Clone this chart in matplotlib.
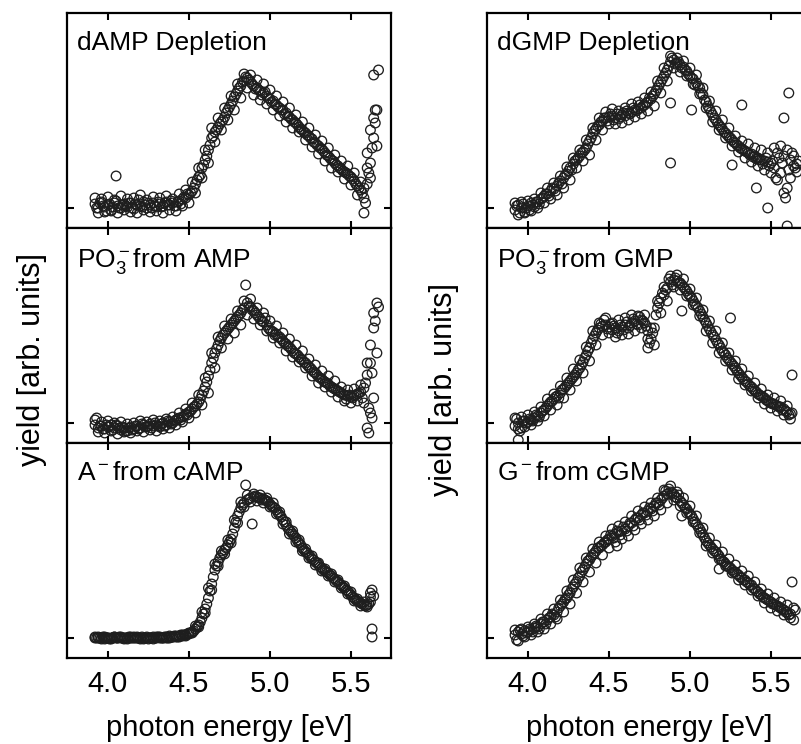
import numpy as np
import matplotlib
matplotlib.use("Agg")
import matplotlib.pyplot as plt

plt.rcParams['font.family'] = ['Liberation Sans', 'DejaVu Sans']
plt.rcParams['mathtext.fontset'] = 'custom'
plt.rcParams['mathtext.rm'] = 'Liberation Sans'
plt.rcParams['mathtext.it'] = 'Liberation Sans:italic'
plt.rcParams['mathtext.default'] = 'regular'

nan = np.nan

# photon energies of the scans [eV]
energy_a = [3.92, 3.94, 3.96, 3.98, 4.00, 4.02, 4.04, 4.06, 4.08, 4.10,
            4.12, 4.14, 4.16, 4.18, 4.20, 4.22, 4.24, 4.26, 4.28, 4.30,
            4.32, 4.34, 4.36, 4.38, 4.40, 4.42, 4.44, 4.46, 4.48, 4.50,
            4.52, 4.54, 4.56, 4.58, 4.60, 4.62, 4.64, 4.66, 4.68, 4.70,
            4.72, 4.74, 4.76, 4.78, 4.80, 4.82, 4.84, 4.86, 4.88, 4.90,
            4.92, 4.94, 4.96, 4.98, 5.00, 5.02, 5.04, 5.06, 5.08, 5.10,
            5.12, 5.14, 5.16, 5.18, 5.20, 5.22, 5.24, 5.26, 5.28, 5.30,
            5.32, 5.34, 5.36, 5.38, 5.40, 5.42, 5.44, 5.46, 5.48, 5.50,
            5.52, 5.54, 5.56, 5.58, 5.60, 5.62, 5.64, 5.66]
energy_b = [3.93, 3.95, 3.97, 3.99, 4.01, 4.03, 4.05, 4.07, 4.09, 4.11,
            4.13, 4.15, 4.17, 4.19, 4.21, 4.23, 4.25, 4.27, 4.29, 4.31,
            4.33, 4.35, 4.37, 4.39, 4.41, 4.43, 4.45, 4.47, 4.49, 4.51,
            4.53, 4.55, 4.57, 4.59, 4.61, 4.63, 4.65, 4.67, 4.69, 4.71,
            4.73, 4.75, 4.77, 4.79, 4.81, 4.83, 4.85, 4.87, 4.89, 4.91,
            4.93, 4.95, 4.97, 4.99, 5.01, 5.03, 5.05, 5.07, 5.09, 5.11,
            5.13, 5.15, 5.17, 5.19, 5.21, 5.23, 5.25, 5.27, 5.29, 5.31,
            5.33, 5.35, 5.37, 5.39, 5.41, 5.43, 5.45, 5.47, 5.49, 5.51,
            5.53, 5.55, 5.57, 5.59, 5.61, 5.63, 5.65, 5.67]

# ---- dAMP Depletion ----
damp_a = [0.04, 0.00, 0.06, 0.01, 0.03, -0.02, 0.05, 0.02, 0.00, 0.04,
          0.01, 0.05, -0.01, 0.03, 0.02, 0.06, 0.00, 0.03, 0.05, 0.01,
          0.04, 0.02, 0.06, 0.03, 0.05, 0.02, 0.07, 0.09, 0.10, 0.13,
          0.17, 0.24, 0.31, 0.40, 0.48, 0.58, 0.70, 0.76, 0.81, 0.86,
          0.91, 0.98, 1.04, 1.11, 1.17, 1.22, 1.27, 1.30, 1.26, 1.22,
          1.20, 1.17, 1.15, 1.12, 1.09, 1.07, 1.03, 1.00, 0.98, 0.95,
          0.91, 0.88, 0.85, 0.81, 0.78, 0.75, 0.72, 0.69, 0.65, 0.62,
          0.59, 0.55, 0.52, 0.48, 0.45, 0.42, 0.39, 0.36, 0.34, 0.31,
          0.27, 0.22, 0.18, 0.20, 0.24, 0.45, 0.70, 0.98]
damp_b = [0.00, 0.05, 0.02, -0.03, 0.04, 0.01, 0.07, 0.00, 0.03, 0.02,
          0.05, 0.00, 0.04, 0.08, 0.01, 0.03, 0.05, 0.00, 0.02, 0.06,
          0.01, 0.05, 0.03, 0.07, 0.02, 0.06, 0.04, 0.11, 0.14, 0.15,
          0.20, 0.28, 0.33, 0.43, 0.52, 0.63, 0.72, 0.78, 0.84, 0.88,
          0.95, 1.01, 1.07, 1.14, 1.20, 1.26, 1.31, 1.28, 1.24, 1.19,
          1.18, 1.13, 1.16, 1.10, 1.06, 1.04, 1.01, 0.98, 0.94, 0.92,
          0.89, 0.86, 0.83, 0.79, 0.76, 0.73, 0.70, 0.66, 0.63, 0.60,
          0.57, 0.53, 0.50, 0.47, 0.43, 0.40, 0.37, 0.35, 0.32, 0.29,
          0.24, 0.20, 0.15, 0.05, 0.35, 0.60, 0.85, 1.38]
damp_c = [0.10, -0.05, 0.09, -0.04, 0.11, -0.03, 0.08, -0.05, 0.12, -0.02,
          0.09, -0.04, 0.10, -0.05, 0.13, -0.02, 0.08, -0.04, 0.11, -0.03,
          0.10, -0.05, 0.12, -0.02, 0.09, -0.03, 0.14, 0.02, 0.18, 0.05,
          0.26, 0.15, 0.40, 0.30, 0.58, 0.45, 0.80, 0.66, 0.90, 0.78,
          1.00, 0.88, 1.12, 0.98, 1.24, 1.10, 1.34, 1.20, 1.33, 1.13,
          1.28, 1.08, 1.24, 1.04, 1.18, 0.98, 1.12, 0.92, 1.06, 0.86,
          1.00, 0.80, 0.93, 0.76, 0.86, 0.68, 0.80, 0.61, 0.73, 0.54,
          0.67, 0.47, 0.60, 0.40, 0.53, 0.36, 0.47, 0.29, 0.42, 0.23,
          0.35, 0.13, 0.26, 0.10, 0.40, 0.30, 0.90, 0.62]
damp_xo = [4.05, 5.64, 5.65, 5.62, 5.60, 5.58]
damp_yo = [0.32, 1.33, 0.98, 0.78, 0.55, -0.05]

# ---- PO3- from AMP ----
po3amp_a = [-0.02, -0.05, -0.03, -0.06, -0.04, -0.02, -0.05, -0.03, -0.07, -0.05,
            -0.08, -0.04, -0.06, -0.03, -0.05, -0.02, -0.04, -0.01, -0.03, -0.02,
            -0.04, 0.00, -0.02, 0.01, 0.00, 0.03, 0.05, 0.06, 0.09, 0.11,
            0.14, 0.17, 0.21, 0.28, 0.36, 0.47, 0.60, 0.70, 0.78, 0.85,
            0.90, 0.94, 0.98, 1.02, 1.06, 1.10, 1.15, 1.20, 1.16, 1.12,
            1.08, 1.04, 1.01, 0.98, 0.93, 0.91, 0.89, 0.86, 0.82, 0.79,
            0.76, 0.72, 0.69, 0.66, 0.63, 0.60, 0.56, 0.53, 0.50, 0.46,
            0.44, 0.41, 0.39, 0.36, 0.34, 0.32, 0.30, 0.28, 0.27, 0.26,
            0.27, 0.29, 0.31, 0.35, 0.48, 0.78, 1.10, 1.20]
po3amp_b = [0.05, -0.03, -0.06, -0.02, -0.04, -0.07, -0.02, -0.05, -0.04, -0.08,
            -0.05, -0.07, -0.03, -0.06, -0.01, -0.04, -0.03, -0.05, 0.00, -0.03,
            -0.01, -0.03, 0.02, -0.01, 0.02, 0.04, 0.03, 0.07, 0.08, 0.12,
            0.16, 0.19, 0.24, 0.32, 0.41, 0.53, 0.65, 0.74, 0.82, 0.88,
            0.92, 0.96, 1.00, 1.04, 1.08, 1.13, 1.38, 1.17, 1.13, 1.10,
            1.06, 1.02, 1.05, 0.95, 0.92, 0.88, 0.86, 0.84, 0.80, 0.77,
            0.74, 0.70, 0.68, 0.64, 0.61, 0.58, 0.55, 0.51, 0.48, 0.45,
            0.42, 0.40, 0.37, 0.35, 0.33, 0.31, 0.29, 0.24, 0.28, 0.25,
            0.28, 0.30, 0.25, 0.40, 0.15, 0.50, 1.02, 1.16]
po3amp_c = [0.03, -0.09, 0.01, -0.10, 0.02, -0.08, 0.00, -0.11, 0.01, -0.09,
            -0.01, -0.10, 0.00, -0.08, 0.02, -0.09, 0.01, -0.07, 0.03, -0.08,
            0.02, -0.06, 0.04, -0.05, 0.06, -0.02, 0.10, 0.01, 0.14, 0.05,
            0.20, 0.10, 0.28, 0.18, 0.45, 0.30, 0.70, 0.55, 0.86, 0.75,
            0.97, 0.84, 1.04, 0.90, 1.12, 0.98, 1.22, 1.08, 1.24, 1.04,
            1.15, 0.98, 1.10, 0.92, 1.02, 0.85, 0.97, 0.80, 0.90, 0.72,
            0.84, 0.66, 0.78, 0.61, 0.72, 0.55, 0.64, 0.47, 0.58, 0.40,
            0.52, 0.36, 0.47, 0.31, 0.42, 0.26, 0.36, 0.22, 0.33, 0.20,
            0.34, 0.22, 0.38, 0.20, 0.60, 0.10, 0.95, 0.70]
po3amp_xo = [5.61, 5.63, 5.64, 5.62, 5.60]
po3amp_yo = [-0.10, 0.05, 0.25, 0.60, -0.05]

# ---- A- from cAMP ----
acamp_a = [0.00, 0.01, 0.00, -0.01, 0.00, 0.00, 0.01, 0.00, 0.00, -0.01,
           0.00, 0.00, 0.01, 0.00, 0.00, -0.01, 0.00, 0.00, 0.01, 0.00,
           0.00, 0.00, 0.01, 0.00, 0.01, 0.01, 0.02, 0.02, 0.03, 0.04,
           0.06, 0.09, 0.13, 0.20, 0.29, 0.40, 0.54, 0.68, 0.76, 0.83,
           0.88, 0.93, 0.99, 1.10, 1.22, 1.30, 1.35, 1.38, 1.40, 1.41,
           1.41, 1.40, 1.39, 1.37, 1.34, 1.31, 1.28, 1.23, 1.18, 1.13,
           1.08, 1.04, 1.00, 0.95, 0.90, 0.86, 0.83, 0.79, 0.76, 0.73,
           0.70, 0.67, 0.65, 0.62, 0.59, 0.56, 0.53, 0.50, 0.47, 0.43,
           0.40, 0.37, 0.35, 0.33, 0.33, 0.36, 0.42, nan]
acamp_b = [0.00, 0.00, 0.01, 0.00, -0.01, 0.00, 0.00, 0.01, 0.00, 0.00,
           0.01, 0.00, 0.00, 0.00, 0.01, 0.00, -0.01, 0.00, 0.00, 0.01,
           0.00, 0.01, 0.00, 0.01, 0.02, 0.01, 0.03, 0.03, 0.04, 0.05,
           0.07, 0.11, 0.16, 0.24, 0.34, 0.47, 0.61, 0.72, 0.80, 0.85,
           0.90, 0.96, 1.04, 1.16, 1.26, 1.33, 1.53, 1.39, 1.14, 1.42,
           1.40, 1.38, 1.38, 1.36, 1.32, 1.30, 1.25, 1.21, 1.16, 1.10,
           1.06, 1.02, 0.97, 0.93, 0.88, 0.85, 0.81, 0.78, 0.75, 0.71,
           0.68, 0.66, 0.63, 0.60, 0.57, 0.54, 0.51, 0.48, 0.45, 0.41,
           0.38, 0.36, 0.34, 0.32, 0.34, 0.01, nan, nan]
acamp_c = [0.01, 0.00, -0.01, 0.01, 0.00, -0.01, 0.01, 0.00, 0.01, 0.00,
           -0.01, 0.01, 0.00, 0.01, -0.01, 0.00, 0.01, 0.00, -0.01, 0.01,
           0.01, 0.00, 0.00, 0.02, 0.01, 0.02, 0.01, 0.03, 0.02, 0.05,
           0.05, 0.12, 0.11, 0.26, 0.25, 0.50, 0.48, 0.74, 0.72, 0.87,
           0.84, 0.98, 0.95, 1.18, 1.15, 1.36, 1.31, 1.43, 1.36, 1.44,
           1.37, 1.43, 1.35, 1.40, 1.31, 1.35, 1.24, 1.26, 1.14, 1.16,
           1.04, 1.07, 0.96, 0.98, 0.87, 0.89, 0.80, 0.82, 0.73, 0.75,
           0.67, 0.69, 0.62, 0.64, 0.56, 0.58, 0.50, 0.52, 0.44, 0.46,
           0.37, 0.39, 0.32, 0.36, 0.31, 0.45, nan, nan]
acamp_xo = [5.63, 5.63, 5.62]
acamp_yo = [0.09, 0.48, 0.41]

# ---- dGMP Depletion ----
dgmp_a = [-0.02, 0.03, 0.00, -0.04, 0.02, 0.05, 0.01, 0.06, 0.09, 0.12,
          0.14, 0.17, 0.19, 0.22, 0.27, 0.30, 0.34, 0.40, 0.44, 0.48,
          0.52, 0.56, 0.60, 0.67, 0.74, 0.79, 0.83, 0.87, 0.90, 0.91,
          0.92, 0.90, 0.89, 0.93, 0.92, 0.95, 0.96, 0.98, 0.99, 1.00,
          1.03, 1.06, 1.09, 1.14, 1.20, 1.26, 1.32, 1.38, 1.46, 1.48,
          1.45, 1.43, 1.41, 1.37, 1.32, 1.29, 1.25, 1.20, 1.13, 1.06,
          0.99, 0.93, 0.88, 0.83, 0.79, 0.75, 0.71, 0.68, 0.65, 0.62,
          0.59, 0.57, 0.55, 0.54, 0.52, 0.50, 0.48, 0.47, 0.46, 0.45,
          0.40, 0.55, 0.35, 0.52, 0.20, 0.48, 0.42, 0.44]
dgmp_b = [0.02, -0.05, 0.04, 0.00, -0.02, 0.03, 0.06, 0.04, 0.10, 0.14,
          0.12, 0.20, 0.17, 0.25, 0.24, 0.33, 0.37, 0.38, 0.47, 0.50,
          0.55, 0.58, 0.64, 0.70, 0.77, 0.82, 0.86, 0.90, 0.87, 0.94,
          0.88, 0.94, 0.91, 0.95, 0.97, 0.94, 1.00, 0.97, 1.03, 1.02,
          1.05, 1.10, 1.12, 1.17, 1.23, 1.29, 1.35, 1.42, 1.50, 1.44,
          1.46, 1.40, 1.38, 1.34, 1.30, 1.23, 1.22, 1.15, 1.08, 1.02,
          0.96, 0.90, 0.85, 0.81, 0.76, 0.73, 0.70, 0.66, 0.63, 0.60,
          0.58, 0.56, 0.53, 0.51, 0.49, 0.48, 0.44, 0.50, 0.42, 0.47,
          0.30, 0.50, 0.45, 0.10, 0.38, 0.55, 0.40, 0.47]
dgmp_c = [0.05, -0.07, 0.06, -0.05, 0.07, -0.03, 0.09, 0.00, 0.15, 0.05,
          0.20, 0.09, 0.25, 0.13, 0.32, 0.20, 0.41, 0.28, 0.50, 0.40,
          0.58, 0.47, 0.68, 0.53, 0.80, 0.68, 0.90, 0.78, 0.96, 0.84,
          0.99, 0.84, 0.97, 0.85, 1.00, 0.88, 1.04, 0.91, 1.06, 0.94,
          1.10, 0.97, 1.16, 1.02, 1.27, 1.15, 1.40, 1.27, 1.52, 1.40,
          1.50, 1.36, 1.47, 1.32, 1.40, 1.24, 1.33, 1.14, 1.20, 1.00,
          1.07, 0.86, 0.97, 0.78, 0.88, 0.70, 0.80, 0.62, 0.72, 0.56,
          0.67, 0.50, 0.64, 0.46, 0.60, 0.42, 0.58, 0.38, 0.55, 0.35,
          0.60, 0.28, 0.62, 0.15, 0.58, 0.30, 0.52, 0.36]
dgmp_xo = [4.88, 4.88, 5.01, 5.61, 5.58, 5.48, 5.41, 5.60, 5.26, 5.32]
dgmp_yo = [1.05, 0.45, 0.98, 1.15, 0.90, 0.00, 0.20, -0.18, 0.43, 1.03]

# ---- PO3- from GMP ----
po3gmp_a = [-0.03, 0.00, -0.05, 0.02, 0.01, 0.03, 0.05, 0.07, 0.10, 0.13,
            0.17, 0.21, 0.24, 0.27, 0.30, 0.34, 0.38, 0.42, 0.46, 0.50,
            0.55, 0.61, 0.68, 0.75, 0.84, 0.90, 0.95, 0.97, 0.98, 0.96,
            0.93, 0.95, 0.92, 0.96, 0.98, 0.95, 1.00, 1.02, 0.98, 1.03,
            1.00, 0.92, 0.84, 0.95, 1.15, 1.25, 1.28, 1.35, 1.41, 1.43,
            1.42, 1.40, 1.36, 1.32, 1.27, 1.22, 1.17, 1.12, 1.06, 1.00,
            0.94, 0.88, 0.83, 0.78, 0.72, 0.68, 0.63, 0.59, 0.55, 0.50,
            0.46, 0.42, 0.39, 0.36, 0.32, 0.29, 0.27, 0.25, 0.22, 0.20,
            0.19, 0.17, 0.16, 0.14, 0.11, 0.09, nan, nan]
po3gmp_b = [0.04, -0.08, 0.02, 0.00, 0.04, 0.02, 0.08, 0.06, 0.12, 0.15,
            0.19, 0.22, 0.26, 0.25, 0.33, 0.36, 0.40, 0.44, 0.48, 0.53,
            0.58, 0.65, 0.72, 0.80, 0.87, 0.93, 0.99, 1.03, 0.94, 0.99,
            0.97, 0.90, 0.98, 0.93, 1.01, 0.97, 1.04, 0.99, 1.06, 1.02,
            0.97, 0.80, 0.90, 1.08, 1.20, 1.30, 1.33, 1.44, 1.38, 1.45,
            1.40, 1.38, 1.34, 1.29, 1.25, 1.19, 1.15, 1.09, 1.03, 0.97,
            0.91, 0.86, 0.80, 0.75, 0.70, 0.65, 0.61, 0.57, 0.52, 0.48,
            0.44, 0.41, 0.37, 0.34, 0.31, 0.28, 0.26, 0.23, 0.21, 0.19,
            0.18, 0.16, 0.13, 0.12, 0.08, 0.10, nan, nan]
po3gmp_c = [0.05, -0.06, 0.06, -0.04, 0.08, -0.02, 0.11, 0.02, 0.16, 0.07,
            0.24, 0.13, 0.29, 0.18, 0.37, 0.25, 0.45, 0.33, 0.54, 0.42,
            0.63, 0.50, 0.76, 0.62, 0.92, 0.78, 1.00, 0.88, 1.05, 0.90,
            1.00, 0.86, 1.03, 0.88, 1.05, 0.89, 1.08, 0.92, 1.07, 0.95,
            1.08, 0.84, 0.95, 0.78, 1.22, 1.10, 1.36, 1.22, 1.47, 1.36,
            1.48, 1.33, 1.44, 1.27, 1.34, 1.18, 1.25, 1.07, 1.13, 0.92,
            1.02, 0.80, 0.92, 0.70, 0.80, 0.62, 0.70, 0.53, 0.62, 0.44,
            0.54, 0.38, 0.47, 0.32, 0.40, 0.25, 0.34, 0.19, 0.28, 0.15,
            0.25, 0.12, 0.22, 0.08, 0.17, 0.04, nan, nan]
po3gmp_xo = [5.63, 5.25, 4.95, 4.74, 3.94]
po3gmp_yo = [0.48, 1.05, 1.12, 0.75, -0.17]

# ---- G- from cGMP ----
gcgmp_a = [0.03, 0.06, 0.04, 0.07, 0.06, 0.08, 0.10, 0.11, 0.14, 0.16,
           0.18, 0.21, 0.23, 0.26, 0.32, 0.36, 0.40, 0.45, 0.51, 0.56,
           0.62, 0.68, 0.74, 0.78, 0.83, 0.87, 0.90, 0.93, 0.96, 0.99,
           1.02, 1.04, 1.06, 1.07, 1.09, 1.12, 1.15, 1.18, 1.20, 1.23,
           1.25, 1.27, 1.29, 1.32, 1.35, 1.38, 1.42, 1.44, 1.46, 1.44,
           1.40, 1.37, 1.33, 1.29, 1.24, 1.19, 1.14, 1.09, 1.03, 0.97,
           0.93, 0.89, 0.86, 0.82, 0.77, 0.74, 0.71, 0.68, 0.66, 0.63,
           0.60, 0.58, 0.55, 0.53, 0.49, 0.46, 0.43, 0.40, 0.38, 0.36,
           0.34, 0.32, 0.30, 0.28, 0.26, 0.24, 0.30, nan]
gcgmp_b = [-0.02, 0.08, 0.02, 0.05, 0.09, 0.06, 0.12, 0.09, 0.16, 0.14,
           0.20, 0.24, 0.21, 0.30, 0.34, 0.39, 0.43, 0.49, 0.54, 0.60,
           0.66, 0.71, 0.77, 0.81, 0.85, 0.90, 0.92, 0.95, 0.98, 1.03,
           1.00, 1.07, 1.03, 1.11, 1.07, 1.15, 1.12, 1.20, 1.18, 1.25,
           1.23, 1.30, 1.27, 1.35, 1.33, 1.40, 1.47, 1.49, 1.45, 1.41,
           1.43, 1.35, 1.30, 1.26, 1.22, 1.16, 1.11, 1.06, 1.00, 0.95,
           0.91, 0.87, 0.84, 0.79, 0.76, 0.72, 0.70, 0.66, 0.64, 0.61,
           0.58, 0.56, 0.53, 0.50, 0.47, 0.44, 0.41, 0.39, 0.37, 0.34,
           0.33, 0.31, 0.29, 0.26, 0.23, 0.56, 0.28, nan]
gcgmp_c = [0.08, -0.03, 0.09, 0.01, 0.11, 0.03, 0.14, 0.06, 0.19, 0.09,
           0.24, 0.14, 0.29, 0.19, 0.38, 0.26, 0.47, 0.34, 0.58, 0.45,
           0.70, 0.56, 0.80, 0.66, 0.89, 0.75, 0.96, 0.83, 1.02, 0.90,
           1.09, 0.96, 1.12, 0.99, 1.16, 1.02, 1.22, 1.08, 1.27, 1.14,
           1.31, 1.18, 1.35, 1.22, 1.40, 1.28, 1.48, 1.35, 1.52, 1.38,
           1.46, 1.32, 1.40, 1.25, 1.32, 1.16, 1.22, 1.05, 1.10, 0.92,
           1.00, 0.85, 0.93, 0.79, 0.86, 0.72, 0.79, 0.65, 0.73, 0.58,
           0.67, 0.53, 0.62, 0.48, 0.56, 0.42, 0.49, 0.35, 0.44, 0.30,
           0.40, 0.27, 0.36, 0.23, 0.33, 0.20, nan, nan]
gcgmp_xo = [5.18, 4.95, 5.64, 4.55]
gcgmp_yo = [0.69, 1.22, 0.18, 0.92]

panel_labels = [["dAMP Depletion", "PO$_3^-$from AMP", "A$^-$from cAMP"],
                ["dGMP Depletion", "PO$_3^-$from GMP", "G$^-$from cGMP"]]
series = [[(damp_a, damp_b, damp_c, damp_xo, damp_yo),
           (po3amp_a, po3amp_b, po3amp_c, po3amp_xo, po3amp_yo),
           (acamp_a, acamp_b, acamp_c, acamp_xo, acamp_yo)],
          [(dgmp_a, dgmp_b, dgmp_c, dgmp_xo, dgmp_yo),
           (po3gmp_a, po3gmp_b, po3gmp_c, po3gmp_xo, po3gmp_yo),
           (gcgmp_a, gcgmp_b, gcgmp_c, gcgmp_xo, gcgmp_yo)]]
xticks = [4.0, 4.5, 5.0, 5.5]
xtick_labels = ["4.0", "4.5", "5.0", "5.5"]

W, H = 801, 744
fig = plt.figure(figsize=(W / 100, H / 100), dpi=100)

col_left = [67, 487]
col_width = 324
row_top = [13, 228, 443]
row_h = 215

mk = dict(s=48, facecolors='none', edgecolors='#1e1e1e', linewidths=0.95)

for c in range(2):
    for r in range(3):
        ax = fig.add_axes([col_left[c] / W, (H - row_top[r] - row_h) / H,
                           col_width / W, row_h / H])
        ya, yb, yc, xo, yo = series[c][r]
        ax.scatter(energy_a, ya, **mk)
        ax.scatter(energy_b, yb, **mk)
        ax.scatter(energy_a, yc, **mk)
        ax.scatter(xo, yo, **mk)
        ax.set_xlim(3.747, 5.747)
        ax.set_ylim(-0.2, 1.95)
        ax.set_yticks([0])
        ax.set_yticklabels([])
        ax.set_xticks(xticks)
        if r == 2:
            ax.set_xticklabels(xtick_labels, fontsize=21)
            ax.set_xlabel("photon energy [eV]", fontsize=21, labelpad=11)
        else:
            ax.set_xticklabels([])
        ax.tick_params(axis='both', direction='in', length=5, width=1.5,
                       top=True, right=True, pad=9)
        for sp in ax.spines.values():
            sp.set_linewidth(1.6)
            sp.set_zorder(3)
        ax.text(0.031, 0.915, panel_labels[c][r], transform=ax.transAxes,
                fontsize=19, ha='left', va='top')

fig.text(32 / W, (H - 360) / H, "yield [arb. units]", rotation=90,
         fontsize=22, ha='center', va='center')
fig.text(444 / W, (H - 390) / H, "yield [arb. units]", rotation=90,
         fontsize=22, ha='center', va='center')

fig.savefig("out.png", dpi=100)
